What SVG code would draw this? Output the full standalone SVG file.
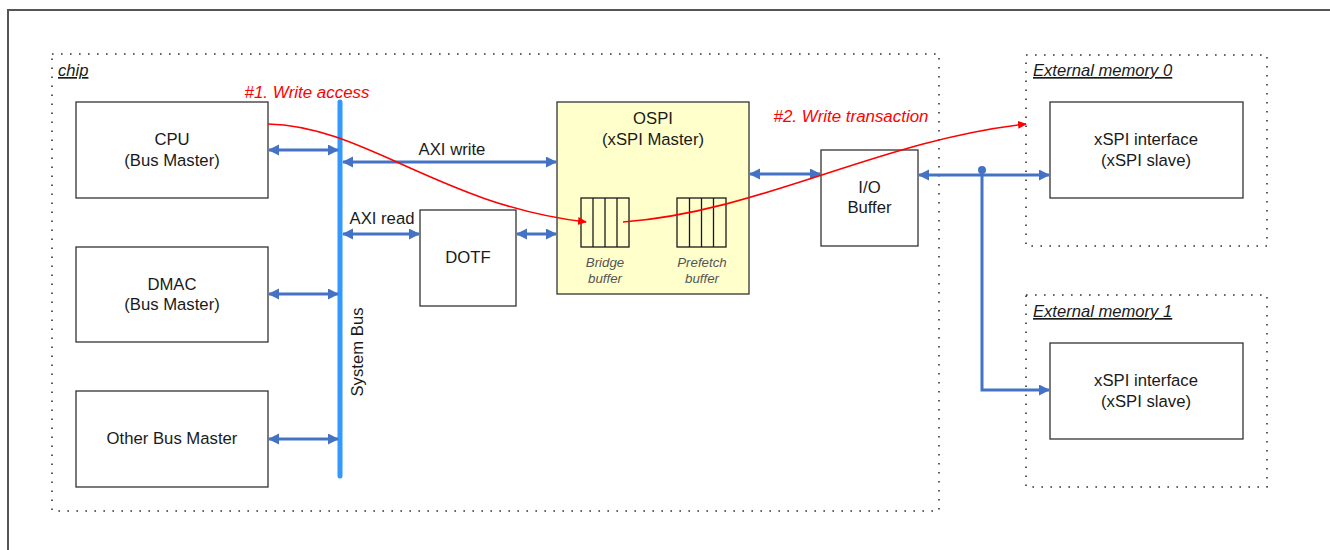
<svg xmlns="http://www.w3.org/2000/svg" width="1330" height="550" viewBox="0 0 1330 550">
<style>
  .box{fill:#fff;stroke:#333;stroke-width:1.3}
  .dot{fill:none;stroke:#333;stroke-width:1.6;stroke-dasharray:1.6 7.4}
  .t{font-family:"Liberation Sans",Arial,sans-serif;font-size:16.7px;fill:#1a1a1a;text-anchor:middle}
  .lbl{font-family:"Liberation Sans",Arial,sans-serif;font-size:16.6px;font-style:italic;fill:#1a1a1a;text-decoration:underline}
  .small{font-family:"Liberation Sans",Arial,sans-serif;font-size:13.3px;font-style:italic;fill:#555;text-anchor:middle}
  .red{font-family:"Liberation Sans",Arial,sans-serif;font-size:16.9px;font-style:italic;fill:#ff0000;text-anchor:middle}
  .bl{fill:none;stroke:#4472C4;stroke-width:3}
  .rd{fill:none;stroke:#ff0000;stroke-width:1.6}
  .cell{fill:none;stroke:#1a1a1a;stroke-width:1.3}
</style>
<defs>
  <marker id="ab" markerUnits="userSpaceOnUse" markerWidth="12" markerHeight="12" refX="10" refY="5.5" orient="auto-start-reverse">
    <path d="M0,0 L11,5.5 L0,11 z" fill="#4472C4"/>
  </marker>
  <marker id="ar" markerUnits="userSpaceOnUse" markerWidth="10" markerHeight="10" refX="8" refY="4" orient="auto">
    <path d="M0,0 L9,4 L0,8 z" fill="#ff0000"/>
  </marker>
</defs>
<rect width="1330" height="550" fill="#fff"/>
<rect x="8" y="10" width="1340" height="560" fill="none" stroke="#555" stroke-width="2"/>

<g id="chip">
  <rect class="dot" x="52" y="54" width="887" height="457"/>
  <text class="lbl" x="58" y="76">chip</text>
</g>
<g id="ext0">
  <rect class="dot" x="1026" y="55" width="241" height="191"/>
  <text class="lbl" x="1033" y="76">External memory 0</text>
</g>
<g id="ext1">
  <rect class="dot" x="1026" y="295" width="241" height="192"/>
  <text class="lbl" x="1033" y="317">External memory 1</text>
</g>

<g id="cpu">
  <rect class="box" x="76" y="102" width="192" height="96"/>
  <text class="t" x="172" y="145">CPU</text>
  <text class="t" x="172" y="166">(Bus Master)</text>
</g>
<g id="dmac">
  <rect class="box" x="76" y="247" width="192" height="95"/>
  <text class="t" x="172" y="290">DMAC</text>
  <text class="t" x="172" y="310">(Bus Master)</text>
</g>
<g id="other">
  <rect class="box" x="76" y="391" width="192" height="96"/>
  <text class="t" x="172" y="444">Other Bus Master</text>
</g>
<g id="sysbus">
  <line x1="340" y1="102" x2="340" y2="476" stroke="#3399FF" stroke-width="5" stroke-linecap="round"/>
  <text class="t" transform="translate(363,352) rotate(-90)">System Bus</text>
</g>
<g id="dotf">
  <rect class="box" x="420" y="210" width="96" height="96"/>
  <text class="t" x="468" y="263">DOTF</text>
</g>
<g id="ospi">
  <rect x="557" y="102" width="192" height="192" fill="#FFFFCC" stroke="#333" stroke-width="1.3"/>
  <text class="t" x="653" y="124">OSPI</text>
  <text class="t" x="653" y="145">(xSPI Master)</text>
  <g id="bridge">
    <rect class="cell" x="581" y="198" width="48" height="49" fill="none"/>
    <line class="cell" x1="593" y1="198" x2="593" y2="247"/>
    <line class="cell" x1="605" y1="198" x2="605" y2="247"/>
    <line class="cell" x1="617" y1="198" x2="617" y2="247"/>
    <text class="small" x="605" y="267">Bridge</text>
    <text class="small" x="605" y="283">buffer</text>
  </g>
  <g id="prefetch">
    <rect class="cell" x="677" y="198" width="49" height="49"/>
    <line class="cell" x1="689.5" y1="198" x2="689.5" y2="247"/>
    <line class="cell" x1="701.5" y1="198" x2="701.5" y2="247"/>
    <line class="cell" x1="713.5" y1="198" x2="713.5" y2="247"/>
    <text class="small" x="702" y="267">Prefetch</text>
    <text class="small" x="702" y="283">buffer</text>
  </g>
</g>
<g id="iobuf">
  <rect class="box" x="821" y="150" width="97" height="96"/>
  <text class="t" x="869.5" y="193">I/O</text>
  <text class="t" x="869.5" y="213">Buffer</text>
</g>
<g id="xspi0">
  <rect class="box" x="1050" y="102" width="193" height="96"/>
  <text class="t" x="1146" y="145">xSPI interface</text>
  <text class="t" x="1146" y="166">(xSPI slave)</text>
</g>
<g id="xspi1">
  <rect class="box" x="1050" y="343" width="193" height="96"/>
  <text class="t" x="1146" y="386">xSPI interface</text>
  <text class="t" x="1146" y="407">(xSPI slave)</text>
</g>

<g id="connectors">
  <line class="bl" x1="269" y1="150" x2="338" y2="150" marker-start="url(#ab)" marker-end="url(#ab)"/>
  <line class="bl" x1="269" y1="294" x2="338" y2="294" marker-start="url(#ab)" marker-end="url(#ab)"/>
  <line class="bl" x1="269" y1="439" x2="338" y2="439" marker-start="url(#ab)" marker-end="url(#ab)"/>
  <line class="bl" x1="343" y1="162" x2="556" y2="162" marker-start="url(#ab)" marker-end="url(#ab)"/>
  <text class="t" x="452" y="155">AXI write</text>
  <line class="bl" x1="343" y1="234" x2="419" y2="234" marker-start="url(#ab)" marker-end="url(#ab)"/>
  <text class="t" x="382" y="224">AXI read</text>
  <line class="bl" x1="517" y1="234" x2="556" y2="234" marker-start="url(#ab)" marker-end="url(#ab)"/>
  <line class="bl" x1="750" y1="174" x2="820" y2="174" marker-start="url(#ab)" marker-end="url(#ab)"/>
  <line class="bl" x1="919" y1="175" x2="1049" y2="175" marker-start="url(#ab)" marker-end="url(#ab)"/>
  <circle cx="982" cy="170" r="4" fill="#4472C4"/>
  <polyline class="bl" points="982,170 982,390 1049,390" marker-end="url(#ab)"/>
  <path class="rd" d="M268,124 C365,126 440,205 586,222" marker-end="url(#ar)"/>
  <path class="rd" d="M623,222 C760,212 880,140 1026,124" marker-end="url(#ar)"/>
  <text class="red" x="307" y="98">#1. Write access</text>
  <text class="red" x="851" y="122">#2. Write transaction</text>
</g>
</svg>
